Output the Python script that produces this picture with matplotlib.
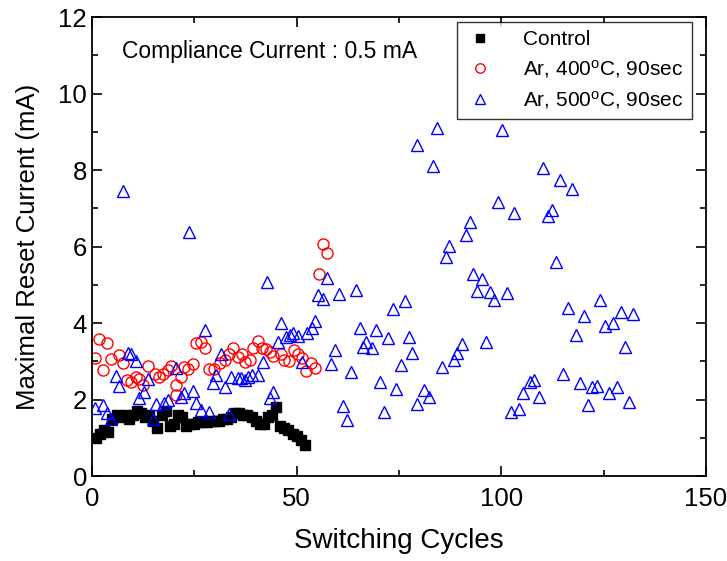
import numpy as np
import matplotlib
matplotlib.use("Agg")
import matplotlib.pyplot as plt
from matplotlib.ticker import MultipleLocator

plt.rcParams['font.family'] = ['Liberation Sans', 'DejaVu Sans']
plt.rcParams['mathtext.default'] = 'regular'

# control sample, cycles 1..52
ctrl_x = np.arange(1, 53)
ctrl_y = [1.0, 1.1, 1.2, 1.15, 1.5, 1.6, 1.55, 1.6, 1.5, 1.6,
          1.7, 1.65, 1.55, 1.6, 1.45, 1.25, 1.6, 1.7, 1.3, 1.35,
          1.6, 1.55, 1.3, 1.35, 1.35, 1.4, 1.4, 1.4, 1.45, 1.45,
          1.45, 1.5, 1.5, 1.55, 1.65, 1.65, 1.6, 1.6, 1.55, 1.45,
          1.35, 1.35, 1.55, 1.6, 1.8, 1.3, 1.25, 1.2, 1.1, 1.05,
          0.95, 0.8]

# Ar 400C anneal
ar400_x = [0.8, 1.7, 2.7, 3.7, 4.7, 6.5, 7.6, 8.6, 9.6, 10.7, 11.6, 12.5, 13.7, 15.3,
           16.3, 17.3, 18.6, 19.4, 20.6, 20.6, 21.7, 22.6, 23.5, 24.7, 25.5, 26.7, 27.5,
           28.7, 29.8, 31.2, 32.4, 33.6, 34.5, 35.7, 36.6, 37.4, 38.6, 39.4, 40.6, 41.5,
           42.5, 43.5, 44.3, 46.3, 47.0, 48.2, 49.4, 50.4, 51.2, 52.4, 53.5, 54.5, 55.5,
           56.5, 57.5]
ar400_y = [3.08, 3.58, 2.77, 3.49, 3.05, 3.16, 2.96, 2.51, 2.47, 2.6, 2.54, 2.38, 2.88, 2.68,
           2.6, 2.67, 2.77, 2.88, 2.38, 2.12, 2.6, 2.86, 2.79, 2.92, 3.47, 3.51, 3.35,
           2.79, 2.79, 2.95, 3.03, 3.2, 3.34, 3.1, 3.19, 2.99, 3.03, 3.36, 3.53, 3.36,
           3.32, 3.25, 3.15, 3.19, 3.03, 3.0, 3.29, 3.2, 3.08, 2.75, 2.96, 2.83, 5.27,
           6.07, 5.84]

# Ar 500C anneal
ar500_x = [0.7, 2.7, 3.7, 4.7, 5.8, 6.6, 7.7, 8.8, 9.6, 10.8, 11.6, 12.7, 13.7, 14.8,
           15.7, 17.7, 18.6, 20.6, 21.8, 22.6, 23.6, 24.7, 25.5, 26.7, 27.5, 28.7, 29.6,
           30.4, 31.6, 32.6, 33.6, 34.0, 35.7, 36.5, 37.3, 38.2, 39.0, 40.6, 41.7, 42.7,
           43.5, 44.3, 45.5, 46.3, 47.5, 48.4, 49.2, 50.4, 51.2, 52.6, 53.7, 54.5, 55.3,
           56.5, 57.5, 58.5, 59.4, 60.4, 61.4, 62.4, 63.4, 64.5, 65.5, 66.3, 67.0, 68.5,
           69.4, 70.3, 71.4, 72.4, 73.5, 74.4, 75.4, 76.5, 77.5, 78.3, 79.4, 79.5, 81.2,
           82.3, 83.4, 84.4, 85.4, 86.4, 87.3, 88.4, 89.3, 90.5, 91.4, 92.4, 93.2, 94.1,
           95.4, 96.3, 97.2, 98.3, 99.3, 100.3, 101.3, 102.4, 103.2, 104.4, 105.4, 106.9,
           108.1, 109.3, 110.3, 111.3, 112.3, 113.3, 114.3, 115.2, 116.4, 117.3, 118.2,
           119.2, 120.3, 121.3, 122.2, 123.3, 124.2, 125.3, 126.2, 127.3, 128.3, 129.2,
           130.3, 131.1, 132.2]
ar500_y = [1.77, 1.86, 1.64, 1.49, 2.61, 2.35, 7.46, 3.21, 3.19, 3.0, 2.03, 2.19, 2.54, 1.49,
           1.87, 1.9, 2.0, 2.82, 2.07, 2.16, 6.39, 2.23, 1.9, 1.73, 3.82, 1.68, 2.44,
           2.64, 3.19, 2.34, 1.62, 2.58, 2.55, 2.55, 2.51, 2.6, 2.64, 2.64, 2.99, 5.08,
           2.03, 2.2, 3.51, 3.99, 3.64, 3.69, 3.73, 3.66, 2.99, 3.73, 3.86, 4.06, 4.73,
           4.62, 5.17, 2.93, 3.29, 4.76, 1.84, 1.46, 2.73, 4.86, 3.86, 3.38, 3.51, 3.34,
           3.83, 2.45, 1.67, 3.62, 4.37, 2.28, 2.9, 4.58, 3.64, 3.21, 8.65, 1.88, 2.25,
           2.07, 8.11, 9.09, 2.84, 5.73, 6.02, 3.03, 3.21, 3.44, 6.3, 6.65, 5.28, 4.85,
           5.14, 3.5, 4.82, 4.6, 7.17, 9.06, 4.79, 1.67, 6.87, 1.75, 2.16, 2.47,
           2.51, 2.07, 8.06, 6.81, 6.95, 5.6, 7.74, 2.67, 4.4, 7.5, 3.7,
           2.44, 4.19, 1.86, 2.32, 2.35, 4.59, 3.91, 2.16, 4.01, 2.33, 4.28,
           3.37, 1.93, 4.23]

fig = plt.figure(figsize=(7.27, 5.61), dpi=100)
ax = fig.add_axes([0.1265, 0.1515, 0.8445, 0.818])

ax.plot(ctrl_x, ctrl_y, 's', color='black', markersize=6.8, label='Control', zorder=3)
ax.plot(ar400_x, ar400_y, 'o', mfc='none', mec='#ff0000', mew=1.0, markersize=8,
        label='Ar, 400$^{o}$C, 90sec', zorder=2)
ax.plot(ar500_x, ar500_y, '^', mfc='none', mec='#0000ff', mew=1.0, markersize=9,
        label='Ar, 500$^{o}$C, 90sec', zorder=4)

ax.set_xlim(0, 150)
ax.set_ylim(0, 12)
ax.xaxis.set_major_locator(MultipleLocator(50))
ax.xaxis.set_minor_locator(MultipleLocator(25))
ax.yaxis.set_major_locator(MultipleLocator(2))
ax.yaxis.set_minor_locator(MultipleLocator(1))
ax.tick_params(which='both', direction='in', top=True, right=True, labelsize=18.5, width=1.2)
ax.tick_params(which='major', length=7)
ax.tick_params(which='minor', length=4)
ax.tick_params(axis='x', pad=8)
for s in ax.spines.values():
    s.set_linewidth(1.3)

ax.set_xlabel('Switching Cycles', fontsize=20, labelpad=12)
ax.set_ylabel('Maximal Reset Current (mA)', fontsize=18.5, labelpad=13)

ax.text(7.3, 11.1, 'Compliance Current : 0.5 mA', fontsize=16.5, va='center', ha='left')

leg = ax.legend(loc='upper right', fontsize=15, frameon=True, fancybox=False,
                edgecolor='black', markerscale=0.85, handlelength=1.4, handletextpad=1.4,
                borderpad=0.4, labelspacing=0.42, borderaxespad=0,
                bbox_to_anchor=(0.977, 0.989))
leg.get_frame().set_linewidth(1.0)

fig.savefig('out.png', dpi=100)
